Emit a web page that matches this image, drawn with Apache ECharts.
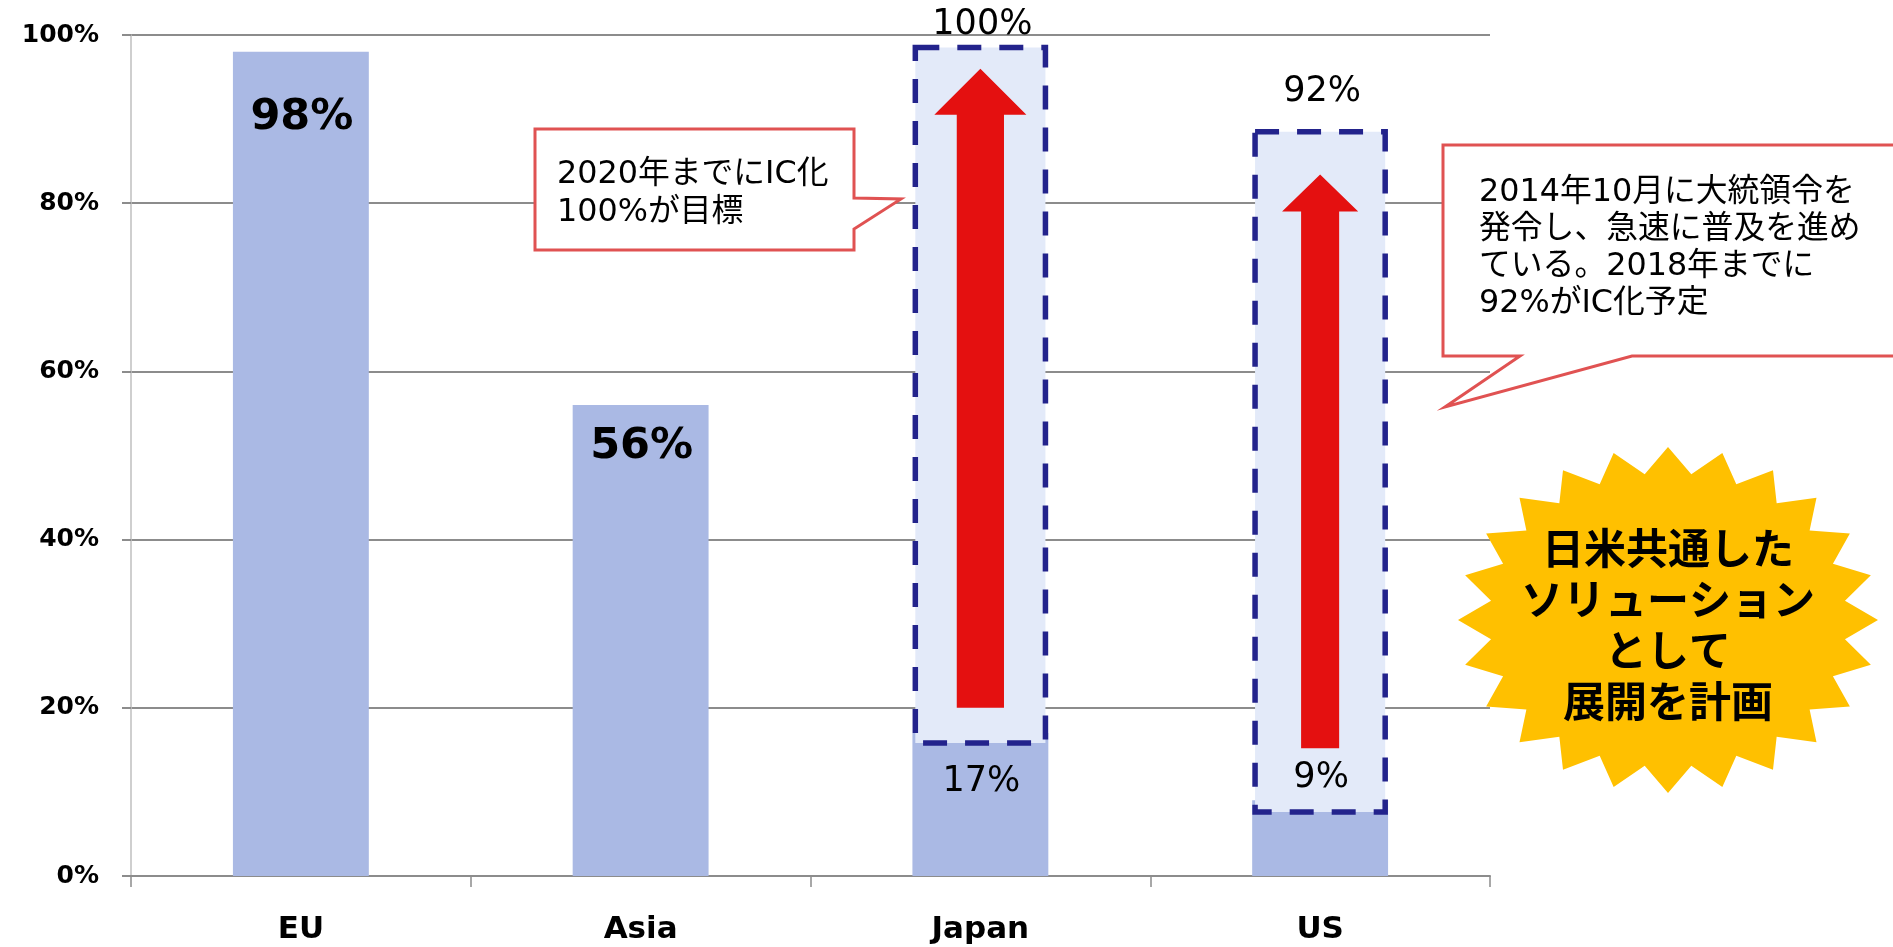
<!DOCTYPE html>
<html>
<head>
<meta charset="utf-8">
<script src="https://cdn.jsdelivr.net/npm/echarts@6/dist/echarts.min.js"></script>
<style>
html,body{margin:0;padding:0;background:#fff;}
#chart{width:1893px;height:947px;}
</style>
</head>
<body>
<div id="chart"></div>
<script>
// ---- data ----
const categories = ['EU', 'Asia', 'Japan', 'US'];
const currentRate = [98, 56, 17, 9];
const targetRate = [null, null, 100, 92];
const boxLow = [null, null, 15.8, 7.6];
const boxHigh = [null, null, 98.5, 88.5];
const arrowFrom = [null, null, 20, 15.2];
const arrowTo = [null, null, 96, 83.4];
const yTickValues = [0, 20, 40, 60, 80, 100];

// ---- styles ----
const LATIN = "'DejaVu Sans', 'Noto Sans CJK JP', sans-serif";
const labelOffset = [66, 42, 49, -22];
const labelSize = [43, 43, 35, 35];
const labelWeight = ['bold', 'bold', 'normal', 'normal'];
const arrowHead = [null, null, {hw: 0.271, sw: 0.139, hl: 46}, {hw: 0.224, sw: 0.112, hl: 37}];

const chart = echarts.init(document.getElementById('chart'));

const boxData = [], arrowData = [], targetData = [], labelData = [];
categories.forEach((c, i) => {
  if (boxLow[i] != null) boxData.push([i, boxLow[i], boxHigh[i]]);
  if (arrowFrom[i] != null) arrowData.push([i, arrowFrom[i], arrowTo[i]]);
  if (targetRate[i] != null) targetData.push([i, targetRate[i]]);
  labelData.push([i, currentRate[i]]);
});

function renderBox(params, api) {
  const i = api.value(0);
  const lo = api.coord([i, api.value(1)]);
  const hi = api.coord([i, api.value(2)]);
  const bw = api.size([1, 0])[0] * 0.383;
  return {
    type: 'rect',
    shape: {x: lo[0] - bw / 2, y: hi[1], width: bw, height: lo[1] - hi[1]},
    style: {fill: '#E3EAF9', stroke: '#23238C', lineWidth: 5.5, lineDash: [24, 18]}
  };
}

function renderArrow(params, api) {
  const i = api.value(0);
  const lo = api.coord([i, api.value(1)]);
  const hi = api.coord([i, api.value(2)]);
  const band = api.size([1, 0])[0];
  const s = arrowHead[i];
  const cx = lo[0];
  const hw = band * s.hw / 2, sw = band * s.sw / 2;
  const yb = hi[1] + s.hl;
  return {
    type: 'polygon',
    shape: {points: [
      [cx, hi[1]], [cx + hw, yb], [cx + sw, yb], [cx + sw, lo[1]],
      [cx - sw, lo[1]], [cx - sw, yb], [cx - hw, yb]
    ]},
    style: {fill: '#E41010'}
  };
}

function renderTarget(params, api) {
  const i = api.value(0);
  const p = api.coord([i, api.value(1)]);
  return {
    type: 'text',
    style: {
      text: api.value(1) + '%', x: p[0] + 2, y: p[1] - 10,
      align: 'center', verticalAlign: 'middle',
      font: '35px ' + LATIN, fill: '#000'
    }
  };
}

function renderLabel(params, api) {
  const i = api.value(0);
  const p = api.coord([i, api.value(1)]);
  return {
    type: 'text',
    style: {
      text: api.value(1) + '%', x: p[0] + 1, y: p[1] + labelOffset[i],
      align: 'center', verticalAlign: 'middle',
      font: labelWeight[i] + ' ' + labelSize[i] + 'px ' + LATIN, fill: '#000'
    }
  };
}

// starburst (24 points)
const starPts = [];
const scx = 1668, scy = 620, rx = 210, ry = 173, inner = 0.85, N = 24;
for (let k = 0; k < N * 2; k++) {
  const a = -Math.PI / 2 + k * Math.PI / N;
  const r = (k % 2 === 0) ? 1 : inner;
  starPts.push([scx + Math.cos(a) * rx * r, scy + Math.sin(a) * ry * r]);
}

const option = {
  animation: false,
  backgroundColor: '#fff',
  grid: {left: 131, right: 403, top: 35, bottom: 71},
  xAxis: {
    type: 'category',
    data: categories,
    axisLine: {lineStyle: {color: '#8C8C8C', width: 2}},
    axisTick: {show: true, length: 11, lineStyle: {color: '#8C8C8C', width: 1.5}},
    axisLabel: {margin: 38, fontSize: 31, fontWeight: 'bold', color: '#000', fontFamily: LATIN}
  },
  yAxis: {
    type: 'value',
    min: 0, max: 100, interval: 20,
    axisLine: {show: true, lineStyle: {color: '#BFBFBF', width: 1.5}},
    axisTick: {show: true, length: 9, lineStyle: {color: '#8C8C8C', width: 2}},
    axisLabel: {
      margin: 32, fontSize: 25, fontWeight: 'bold', color: '#000', fontFamily: LATIN,
      formatter: v => (yTickValues.indexOf(v) >= 0 ? v + '%' : '')
    },
    splitLine: {lineStyle: {color: '#8C8C8C', width: 2}}
  },
  series: [
    {
      type: 'bar', data: currentRate, barWidth: '40%', z: 2,
      itemStyle: {color: '#AAB9E4'}
    },
    {type: 'custom', renderItem: renderBox, data: boxData, z: 3},
    {type: 'custom', renderItem: renderArrow, data: arrowData, z: 4},
    {type: 'custom', renderItem: renderTarget, data: targetData, z: 5},
    {type: 'custom', renderItem: renderLabel, data: labelData, z: 5}
  ],
  graphic: [
    {
      type: 'polygon', z: 10,
      shape: {points: [[535,129],[854,129],[854,198],[901,199],[854,229],[854,250],[535,250]]},
      style: {fill: '#fff', stroke: '#E05252', lineWidth: 3}
    },
    {
      type: 'text', z: 11, x: 557, y: 194,
      style: {text: '2020年までにIC化\n100%が目標', font: '31.8px ' + LATIN, lineHeight: 38,
        fill: '#000', verticalAlign: 'middle', align: 'left'}
    },
    {
      type: 'polygon', z: 10,
      shape: {points: [[1443,145],[1900,145],[1900,356],[1632,356],[1445,407],[1520,356],[1443,356]]},
      style: {fill: '#fff', stroke: '#E05252', lineWidth: 3}
    },
    {
      type: 'text', z: 11, x: 1479, y: 248,
      style: {text: '2014年10月に大統領令を\n発令し、急速に普及を進め\nている。2018年までに\n92%がIC化予定',
        font: '31.8px ' + LATIN, lineHeight: 37, fill: '#000', verticalAlign: 'middle', align: 'left'}
    },
    {
      type: 'polygon', z: 10,
      shape: {points: starPts},
      style: {fill: '#FFC000'}
    },
    {
      type: 'text', z: 11, x: scx, y: 625,
      style: {text: '日米共通した\nソリューション\nとして\n展開を計画',
        font: "bold 42px 'Noto Sans CJK JP', sans-serif", lineHeight: 51,
        fill: '#000', align: 'center', verticalAlign: 'middle'}
    }
  ]
};
chart.setOption(option);
</script>
</body>
</html>
